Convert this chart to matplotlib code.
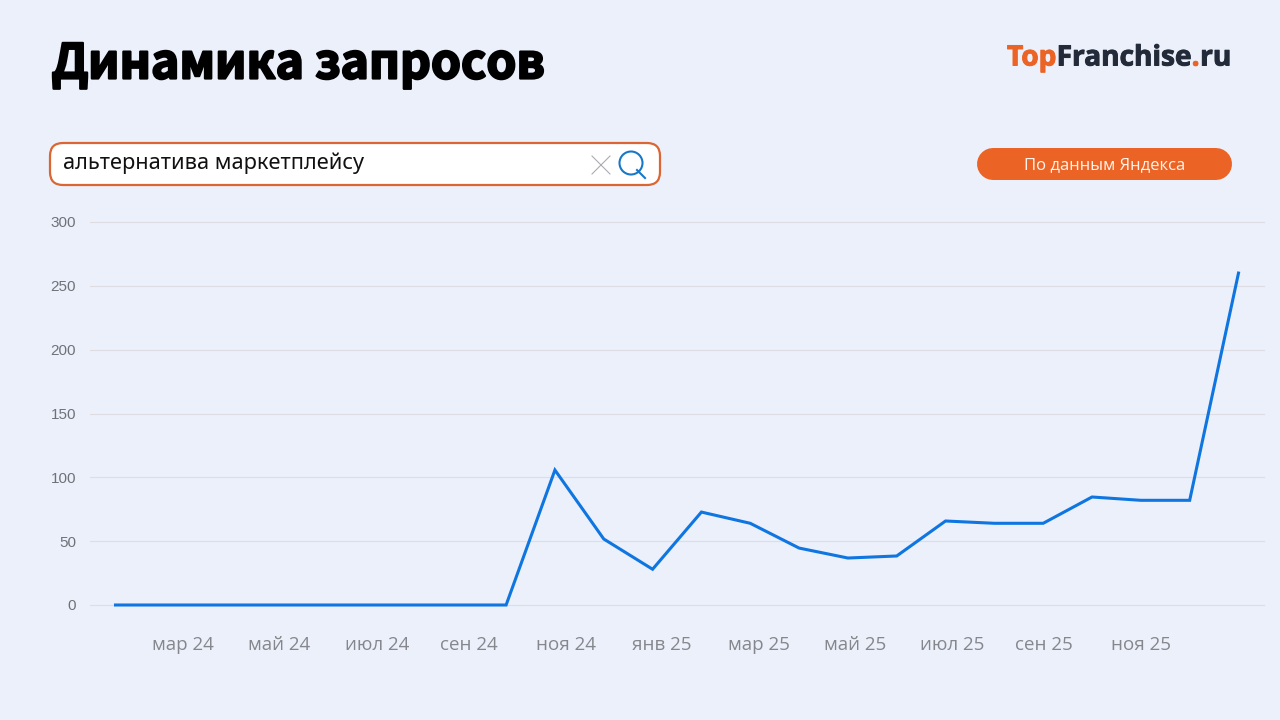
#!/usr/bin/env python3
import numpy as np
from matplotlib import pyplot as plt
from matplotlib import patheffects as pe
from matplotlib.patches import Circle, FancyBboxPatch

values = [0, 0, 0, 0, 0, 0, 0, 0, 0, 105.7, 51.7, 28, 72.8, 64, 44.6, 36.8,
          38.4, 65.8, 64, 64, 84.6, 82, 82, 260]
y_ticks = [0, 50, 100, 150, 200, 250, 300]
x_labels = ['мар 24', 'май 24', 'июл 24', 'сен 24', 'ноя 24', 'янв 25',
            'мар 25', 'май 25', 'июл 25', 'сен 25', 'ноя 25']
# the labels do not sit under their months in the original, it has its own spacing
x_label_pos = [1.38, 3.35, 5.35, 7.24, 9.23, 11.19, 13.18, 15.14, 17.13, 19.02, 21.01]

BG = '#ebf0fa'
ORANGE = '#ec6425'
BLUE = '#0f75e0'
DARK = '#232b3a'

fig = plt.figure(figsize=(12.8, 7.2), dpi=100, facecolor=BG)

# pixel-coordinates layer for everything around the chart
deco = fig.add_axes([0, 0, 1, 1])
deco.set_xlim(0, 1280)
deco.set_ylim(720, 0)
deco.axis('off')

# the bold face is lighter than the original, a thin stroke brings it closer
deco.text(52, 64, 'Динамика запросов', fontsize=34.6, fontweight='black',
          family='Noto Sans CJK SC', color='black', va='center', ha='left',
          path_effects=[pe.withStroke(linewidth=1.6, foreground='black')])

# logo, pieces are put one after the other
fig.canvas.draw()
renderer = fig.canvas.get_renderer()
logo_x = 1007
for part, col in [('Top', ORANGE), ('Franchise', DARK), ('.', ORANGE), ('ru', DARK)]:
    t = deco.text(logo_x, 58, part, fontsize=20.2, fontweight='bold', family='Open Sans',
                  color=col, va='center', ha='left',
                  path_effects=[pe.withStroke(linewidth=0.7, foreground=col)])
    logo_x += t.get_window_extent(renderer).width + 0.5

# search box
deco.add_patch(FancyBboxPatch((50, 143), 610, 42, boxstyle='round,pad=0,rounding_size=13',
                              fc='white', ec='#dc6633', lw=1.6))
deco.text(63, 163, 'альтернатива маркетплейсу', fontsize=15.7, family='Noto Sans',
          color='#111111', va='center', ha='left')
deco.plot([592, 610], [156, 174], color='#a9adb3', lw=0.8)
deco.plot([592, 610], [174, 156], color='#a9adb3', lw=0.8)
deco.add_patch(Circle((631, 163), 11.5, fc='none', ec='#1878c8', lw=1.5))
deco.plot([637, 645], [170, 178], color='#1878c8', lw=1.5)

# badge
deco.plot([993, 1216], [164, 164], color=ORANGE, lw=32 * 0.72, solid_capstyle='round')
deco.text(1105, 165, 'По данным Яндекса', fontsize=12, family='Open Sans',
          color='#fff4ec', va='center', ha='center')

# chart: x 90..1264 px, y 222..605 px
ax = fig.add_axes([90 / 1280, (720 - 605) / 720, (1264 - 90) / 1280, (605 - 222) / 720])
ax.patch.set_alpha(0)
months = np.arange(len(values))
ax.plot(months, values, color=BLUE, lw=2.2, solid_joinstyle='miter', zorder=3, clip_on=False)
ax.set_xlim(-25.5 / 48.83, 23 + 25.5 / 48.83)
ax.set_ylim(0, 300)
ax.set_yticks(y_ticks)
ax.set_xticks(x_label_pos)
ax.set_xticklabels(x_labels, fontsize=13.5, family='Open Sans', color='#85878c')
ax.set_yticklabels([str(v) for v in y_ticks], fontsize=11, family='Liberation Sans',
                   color='#6f7278')
ax.tick_params(axis='both', length=0)
ax.tick_params(axis='x', pad=22)
ax.tick_params(axis='y', pad=10)
ax.grid(axis='y', color='#dddde3', lw=0.8, clip_on=False)
ax.set_axisbelow(True)
for s in ax.spines.values():
    s.set_visible(False)

plt.savefig('out.png', dpi=100, facecolor=BG)
